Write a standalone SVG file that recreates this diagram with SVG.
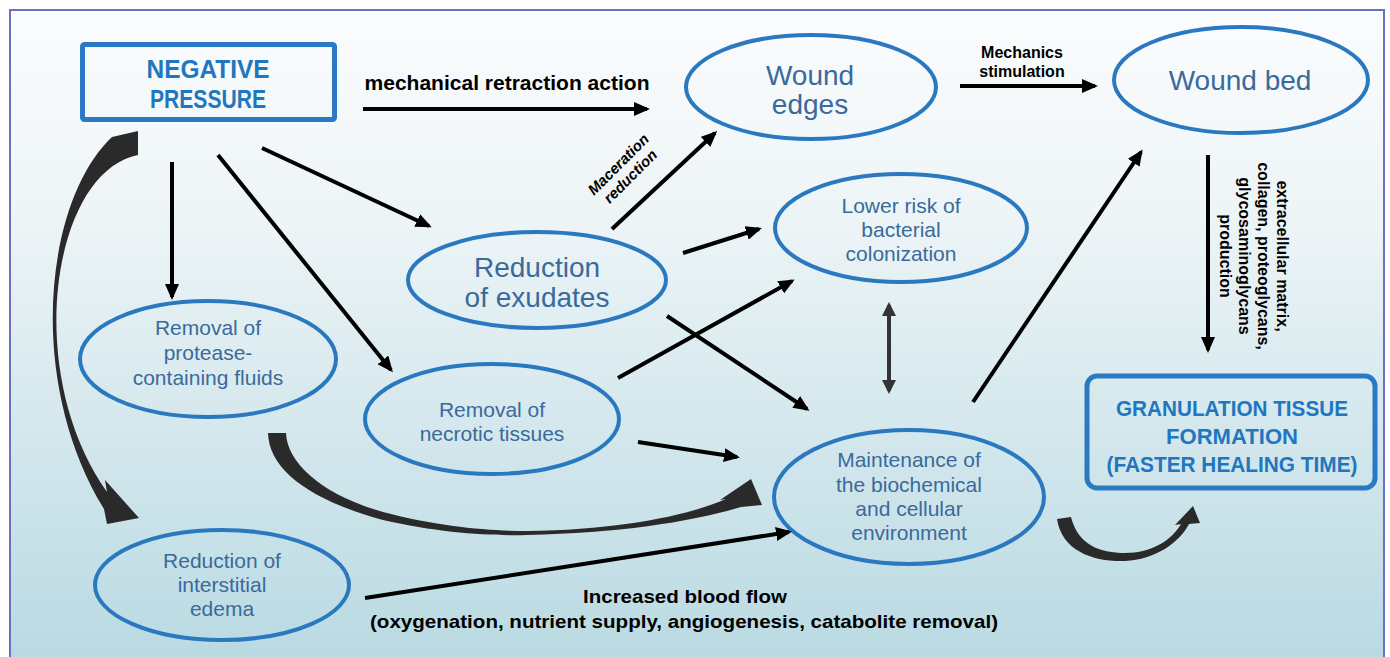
<svg xmlns="http://www.w3.org/2000/svg" width="1390" height="657" viewBox="0 0 1390 657">
<defs>
<linearGradient id="bg" x1="0" y1="0" x2="0" y2="1">
<stop offset="0" stop-color="#fbfcfd"/>
<stop offset="0.3" stop-color="#eef5f7"/>
<stop offset="1" stop-color="#b8d9e2"/>
</linearGradient>
<marker id="ah" markerWidth="16" markerHeight="14" refX="13" refY="7" orient="auto-start-reverse" markerUnits="userSpaceOnUse">
<path d="M0,0 L16,7 L0,14 Z" fill="#000"/>
</marker>
<marker id="ahg" markerWidth="14" markerHeight="14" refX="11" refY="7" orient="auto-start-reverse" markerUnits="userSpaceOnUse">
<path d="M0,0 L14,7 L0,14 Z" fill="#333"/>
</marker>
</defs>
<style>
.node ellipse{fill:none;stroke:#2a79c0;stroke-width:4}
.box{fill:none;stroke:#2a79c2;stroke-width:5}
.et{font-family:"Liberation Sans",Arial,sans-serif;fill:#3a6a9b;text-anchor:middle}
.bt{font-family:"Liberation Sans",Arial,sans-serif;font-weight:bold;fill:#2176c0;text-anchor:middle}
.lab{font-family:"Liberation Sans",Arial,sans-serif;font-weight:bold;fill:#000;text-anchor:middle}
.ln{stroke:#000;stroke-width:4;fill:none;marker-end:url(#ah)}
.sw{fill:#2a2a2a}
</style>
<rect x="0" y="0" width="1390" height="657" fill="#ffffff"/>
<rect x="10" y="10" width="1374" height="660" fill="url(#bg)" stroke="#6c6fc6" stroke-width="2"/>

<g id="negative-pressure" class="node">
<rect class="box" x="82.5" y="44.5" width="252" height="75" rx="2"/>
<text class="bt" font-size="26"><tspan x="208" y="78" textLength="123" lengthAdjust="spacingAndGlyphs">NEGATIVE</tspan><tspan x="208" y="108" textLength="116" lengthAdjust="spacingAndGlyphs">PRESSURE</tspan></text>
</g>

<g id="wound-edges" class="node">
<ellipse cx="811" cy="87" rx="125" ry="52"/>
<text class="et" font-size="28"><tspan x="810" y="85">Wound</tspan><tspan x="810" y="114">edges</tspan></text>
</g>

<g id="wound-bed" class="node">
<ellipse cx="1241" cy="80" rx="127" ry="53"/>
<text class="et" font-size="28" x="1240" y="90">Wound bed</text>
</g>

<g id="reduction-exudates" class="node">
<ellipse cx="537" cy="280" rx="129" ry="48"/>
<text class="et" font-size="28"><tspan x="537" y="277">Reduction</tspan><tspan x="537" y="307">of exudates</tspan></text>
</g>

<g id="lower-risk" class="node">
<ellipse cx="901" cy="228" rx="126" ry="54"/>
<text class="et" font-size="21"><tspan x="901" y="213">Lower risk of</tspan><tspan x="901" y="237">bacterial</tspan><tspan x="901" y="261">colonization</tspan></text>
</g>

<g id="removal-protease" class="node">
<ellipse cx="208" cy="359" rx="128" ry="58"/>
<text class="et" font-size="21"><tspan x="208" y="335">Removal of</tspan><tspan x="208" y="360">protease-</tspan><tspan x="208" y="385">containing fluids</tspan></text>
</g>

<g id="removal-necrotic" class="node">
<ellipse cx="492" cy="419" rx="127" ry="55"/>
<text class="et" font-size="21"><tspan x="492" y="417">Removal of</tspan><tspan x="492" y="441">necrotic tissues</tspan></text>
</g>

<g id="reduction-edema" class="node">
<ellipse cx="222" cy="585" rx="127" ry="55"/>
<text class="et" font-size="21"><tspan x="222" y="568">Reduction of</tspan><tspan x="222" y="592">interstitial</tspan><tspan x="222" y="616">edema</tspan></text>
</g>

<g id="maintenance" class="node">
<ellipse cx="909" cy="497" rx="135" ry="67"/>
<text class="et" font-size="21"><tspan x="909" y="467">Maintenance of</tspan><tspan x="909" y="492">the biochemical</tspan><tspan x="909" y="516">and cellular</tspan><tspan x="909" y="540">environment</tspan></text>
</g>

<g id="granulation" class="node">
<rect class="box" x="1087" y="376" width="288" height="112" rx="10" stroke-width="4"/>
<text class="bt" font-size="22"><tspan x="1232" y="416" textLength="232" lengthAdjust="spacingAndGlyphs">GRANULATION TISSUE</tspan><tspan x="1232" y="444" textLength="132" lengthAdjust="spacingAndGlyphs">FORMATION</tspan><tspan x="1232" y="472" textLength="251" lengthAdjust="spacingAndGlyphs">(FASTER HEALING TIME)</tspan></text>
</g>

<g id="connectors">
<line class="ln" x1="363" y1="109" x2="647" y2="109"/>
<line class="ln" x1="960" y1="86" x2="1095" y2="86"/>
<line class="ln" x1="172" y1="162" x2="172" y2="297"/>
<line class="ln" x1="262" y1="148" x2="429" y2="226"/>
<line class="ln" x1="218" y1="155" x2="391" y2="370"/>
<line class="ln" x1="612" y1="229" x2="715" y2="133"/>
<line class="ln" x1="683" y1="253" x2="759" y2="229"/>
<line class="ln" x1="618" y1="378" x2="792" y2="281"/>
<line class="ln" x1="667" y1="316" x2="807" y2="409"/>
<line x1="889" y1="305" x2="889" y2="391" stroke="#333" stroke-width="4" marker-start="url(#ahg)" marker-end="url(#ahg)"/>
<line class="ln" x1="638" y1="442" x2="737" y2="457"/>
<line class="ln" x1="973" y1="402" x2="1141" y2="152"/>
<line class="ln" x1="1208" y1="155" x2="1208" y2="350"/>
<line class="ln" x1="365" y1="598" x2="789" y2="532"/>
<path class="sw" d="M112,137 L138,131 L138,155 C52,172 22,372 107,492 L105,480 L139,518 L107,524 L104,509 C25,380 45,200 112,137 Z"/>
<path class="sw" d="M268,433 L286,433 C287,462 320,494 383,512 C440,527 490,531 527,531 C620,530 690,515 726,499 L720,500 L751,479 L762,505 L741,507 C690,522 620,533 527,535 C490,536 440,533 383,520 C310,500 269,470 268,433 Z"/>
<path class="sw" d="M1057,519 L1071,517 C1078,545 1100,553 1125,553 C1152,553 1172,540 1181,524 L1175,525 L1193,506 L1200,523 L1189,524 C1180,542 1155,560 1125,561 C1095,562 1062,552 1057,519 Z"/>
</g>

<g id="labels">
<text class="lab" font-size="20" x="507" y="90" textLength="285" lengthAdjust="spacingAndGlyphs">mechanical retraction action</text>
<text class="lab" font-size="16"><tspan x="1022" y="58">Mechanics</tspan><tspan x="1022" y="77">stimulation</tspan></text>
<text class="lab" font-size="15" font-style="italic" transform="translate(622,168) rotate(-45)"><tspan x="0" y="0">Maceration</tspan><tspan x="0" y="17">reduction</tspan></text>
<text class="lab" font-size="16" transform="translate(1254,256) rotate(90)"><tspan x="0" y="-23">extracellular matrix,</tspan><tspan x="0" y="-4">collagen, proteoglycans,</tspan><tspan x="0" y="15">glycosaminoglycans</tspan><tspan x="0" y="34">production</tspan></text>
<text class="lab" font-size="19"><tspan x="685" y="603" textLength="204" lengthAdjust="spacingAndGlyphs">Increased blood flow</tspan><tspan x="684" y="628" textLength="628" lengthAdjust="spacingAndGlyphs">(oxygenation, nutrient supply, angiogenesis, catabolite removal)</tspan></text>
</g>
</svg>
